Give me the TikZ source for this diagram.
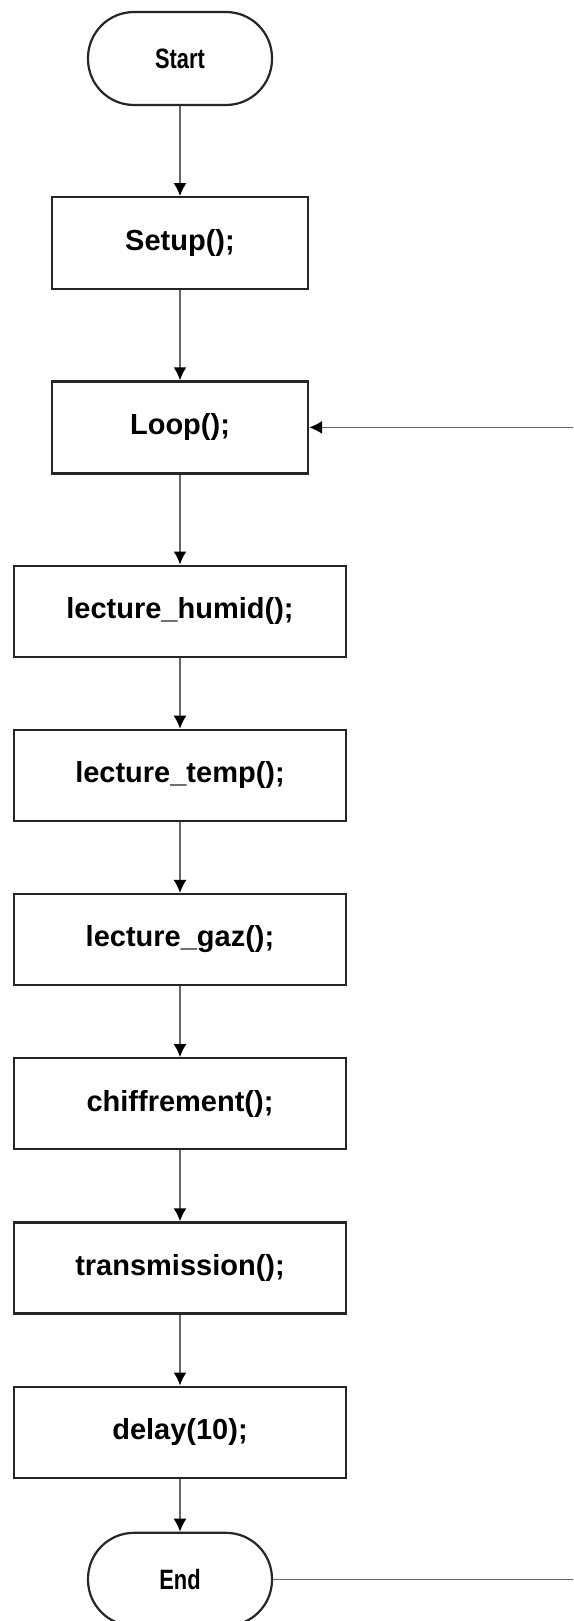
\documentclass[tikz,border=0pt]{standalone}
\usepackage{fontspec}
\setmainfont{Liberation Sans}
\usetikzlibrary{positioning,arrows.meta}

\begin{document}
\begin{tikzpicture}[
    x=0.5pt, y=-0.5pt,
    node distance=45pt,
    every node/.style={draw=black!85, line width=1.1pt, font=\fontsize{14.5}{16}\selectfont\bfseries},
    terminal/.style={rounded corners=23pt, minimum width=92pt, minimum height=46.5pt, font=\fontsize{14}{16}\selectfont\bfseries},
    proc/.style={minimum width=128pt, minimum height=46pt},
    wide/.style={minimum width=166pt, minimum height=45.5pt},
    arrow/.style={-{Latex[length=6.5pt, width=6.5pt, color=black]}, draw=black!60, line width=0.8pt}
]
\useasboundingbox (0,0) rectangle (573,1621);
\clip (0,0) rectangle (573,1621);

\node[terminal] (start) at (180,58.5) {\scalebox{0.78}[1]{Start}};
\node[proc] (setup) [below=of start] {Setup();};
\node[proc] (loop) [below=of setup] {Loop();};
\node[wide] (humid) [below=of loop] {lecture\_humid();};
\node[wide] (temp) [below=35.5pt of humid] {lecture\_temp();};
\node[wide] (gaz) [below=35.5pt of temp] {lecture\_gaz();};
\node[wide] (chiff) [below=35.5pt of gaz] {chiffrement();};
\node[wide] (trans) [below=35.5pt of chiff] {transmission();};
\node[wide] (delay) [below=35.5pt of trans] {delay(10);};
\node[terminal] (finish) [below=26.5pt of delay] {\scalebox{0.78}[1]{End}};

\draw[arrow] (start) -- (setup);
\draw[arrow] (setup) -- (loop);
\draw[arrow] (loop) -- (humid);
\draw[arrow] (humid) -- (temp);
\draw[arrow] (temp) -- (gaz);
\draw[arrow] (gaz) -- (chiff);
\draw[arrow] (chiff) -- (trans);
\draw[arrow] (trans) -- (delay);
\draw[arrow] (delay) -- (finish);
% back to the loop, runs off past the right edge
\draw[arrow] (finish.east) -- ++(400,0) |- (loop.east);

\end{tikzpicture}
\end{document}
